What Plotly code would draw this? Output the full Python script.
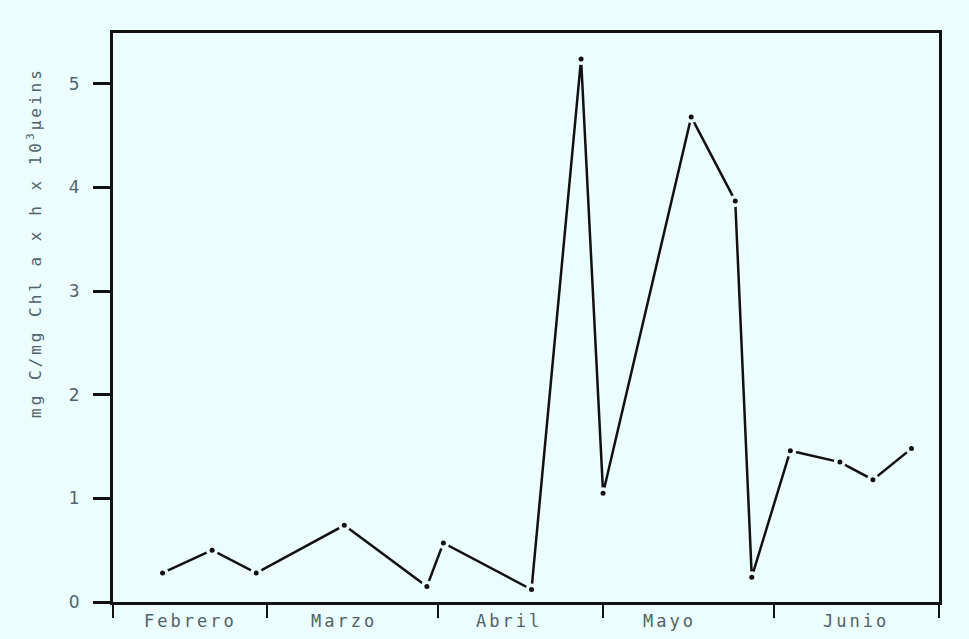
import plotly.graph_objects as go

# Sampling dates and assimilation ratio (mg C / mg Chl a x h x 10^3 μeins)
fechas = ["1983-02-10", "1983-02-19", "1983-02-27", "1983-03-15", "1983-03-30",
          "1983-04-02", "1983-04-18", "1983-04-27", "1983-05-01", "1983-05-17",
          "1983-05-25", "1983-05-28", "1983-06-04", "1983-06-13", "1983-06-19",
          "1983-06-26"]
valores = [0.28, 0.50, 0.28, 0.74, 0.15, 0.57, 0.12, 5.24, 1.05, 4.68,
           3.87, 0.24, 1.46, 1.35, 1.18, 1.48]

# Month boundaries (ticks) and month names placed within each month
limites_mes = ["1983-02-01", "1983-03-01", "1983-04-01", "1983-05-01",
               "1983-06-01", "1983-07-01"]
meses = ["Febrero", "Marzo", "Abril", "Mayo", "Junio"]
pos_meses = ["1983-02-15", "1983-03-15", "1983-04-14", "1983-05-13", "1983-06-16"]

y_ticks = [0, 1, 2, 3, 4, 5]

BG = "#ebfdfd"
INK = "#111111"
GREY = "#50636a"
MONO = "DejaVu Sans Mono"

fig = go.Figure()

# connecting line
fig.add_trace(go.Scatter(x=fechas, y=valores, mode="lines",
                         line=dict(color=INK, width=2.5), hoverinfo="skip"))
# small gap around each point
fig.add_trace(go.Scatter(x=fechas, y=valores, mode="markers",
                         marker=dict(color=BG, size=12, line=dict(width=0)),
                         hoverinfo="skip"))
# data points
fig.add_trace(go.Scatter(x=fechas, y=valores, mode="markers",
                         marker=dict(color=INK, size=5, line=dict(width=0))))

for nombre, pos in zip(meses, pos_meses):
    fig.add_annotation(x=pos, xref="x", y=0, yref="paper", yshift=-19,
                       yanchor="middle", xanchor="center", showarrow=False,
                       text=f'<span style="letter-spacing:3px">{nombre}</span>',
                       font=dict(family=MONO, size=17, color=GREY))

fig.add_annotation(x=-0.0944, xref="paper", y=0.631, yref="paper",
                   textangle=-90, showarrow=False, xanchor="center", yanchor="middle",
                   text='<span style="letter-spacing:3px">mg C/mg Chl a x h x 10<sup>3</sup>μeins</span>',
                   font=dict(family=MONO, size=16, color=GREY))

fig.update_layout(
    width=969, height=639,
    margin=dict(l=113, r=30, t=33, b=37),
    paper_bgcolor=BG, plot_bgcolor=BG,
    showlegend=False,
    xaxis=dict(type="date", range=[limites_mes[0], limites_mes[-1]],
               tickvals=limites_mes, showticklabels=False,
               ticks="outside", ticklen=13, tickwidth=2, tickcolor=INK,
               showline=True, linecolor=INK, linewidth=3, mirror=True,
               showgrid=False, zeroline=False),
    yaxis=dict(range=[0, 5.49], tickvals=y_ticks,
               ticks="outside", ticklen=17, tickwidth=2.5, tickcolor=INK,
               ticklabelstandoff=10,
               tickfont=dict(family="DejaVu Sans", size=17, color=GREY),
               showline=True, linecolor=INK, linewidth=3, mirror=True,
               showgrid=False, zeroline=False),
)

fig.write_html("out.html")
